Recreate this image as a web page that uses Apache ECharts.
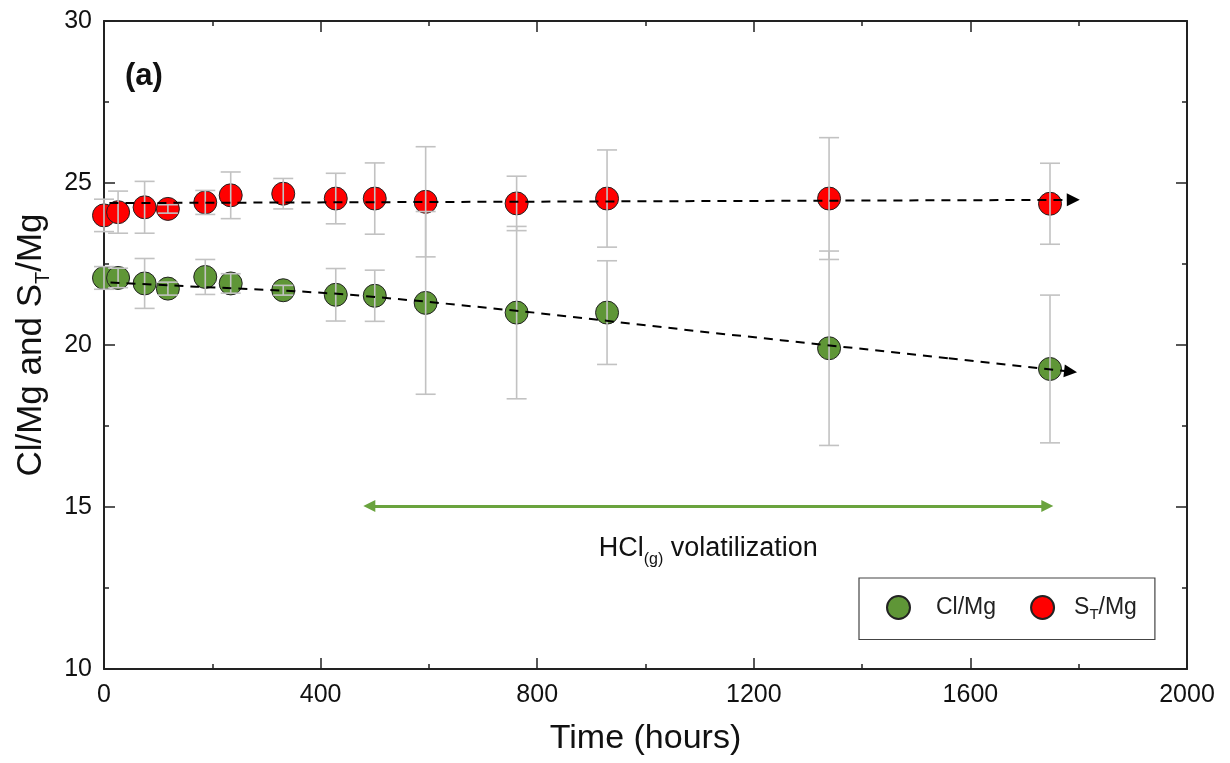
<!DOCTYPE html>
<html>
<head>
<meta charset="utf-8">
<script src="https://cdn.jsdelivr.net/npm/echarts@6/dist/echarts.min.js"></script>
<style>
html,body{margin:0;padding:0;background:#fff;}
#chart{width:1230px;height:763px;}
</style>
</head>
<body>
<div id="chart"></div>
<script>
// ---- data ----
const timeHours = [0, 26, 75, 118, 187, 234, 331, 428, 500, 594, 762, 929, 1339, 1747];
const stMg  = [24.0, 24.1, 24.25, 24.2, 24.4, 24.62, 24.67, 24.52, 24.52, 24.42, 24.37, 24.52, 24.52, 24.36];
const stErr = [0.5, 0.65, 0.8, 0.13, 0.37, 0.72, 0.47, 0.78, 1.1, 1.7, 0.84, 1.5, 1.88, 1.25];
const clMg  = [22.07, 22.07, 21.9, 21.74, 22.1, 21.9, 21.69, 21.55, 21.52, 21.3, 21.0, 21.0, 19.9, 19.26];
const clErr = [0.35, 0.3, 0.77, 0.2, 0.54, 0.3, 0.15, 0.81, 0.79, 2.82, 2.66, 1.6, 3.0, 2.28];
const stTrend = [[10, 24.38], [1790, 24.48]];
const clTrend = [[12, 21.93], [170, 21.8], [345, 21.67], [450, 21.56], [600, 21.33], [800, 20.99], [1100, 20.42], [1250, 20.15], [1560, 19.59], [1785, 19.18]];
const hclArrow = [[490, 15.03], [1742, 15.03]];
const hclLabelPos = [1116, 13.73];
const xTickLabels = ['0', '400', '800', '1200', '1600', '2000'];
const yTickLabels = ['10', '15', '20', '25', '30'];

const GREEN = '#5f9637';
const RED = '#ff0000';
const FONT = 'Liberation Sans, Arial, sans-serif';

const stErrData = timeHours.map((t, i) => [t, stMg[i] - stErr[i], stMg[i] + stErr[i]]);
const clErrData = timeHours.map((t, i) => [t, clMg[i] - clErr[i], clMg[i] + clErr[i]]);

function errRender(params, api) {
  const lo = api.coord([api.value(0), api.value(1)]);
  const hi = api.coord([api.value(0), api.value(2)]);
  const hw = 10;
  const st = { stroke: '#c2c2c2', lineWidth: 1.6 };
  return {
    type: 'group',
    children: [
      { type: 'line', shape: { x1: lo[0], y1: lo[1], x2: hi[0], y2: hi[1] }, style: st },
      { type: 'line', shape: { x1: lo[0] - hw, y1: lo[1], x2: lo[0] + hw, y2: lo[1] }, style: st },
      { type: 'line', shape: { x1: hi[0] - hw, y1: hi[1], x2: hi[0] + hw, y2: hi[1] }, style: st }
    ]
  };
}

const axisLineStyle = { color: '#222', width: 2 };
const commonX = {
  type: 'value', min: 0, max: 2000, interval: 400,
  axisLine: { show: true, onZero: false, lineStyle: axisLineStyle },
  axisTick: { show: true, inside: true, length: 11, lineStyle: { color: '#222', width: 1.5 } },
  minorTick: { show: true, splitNumber: 2, length: 5, lineStyle: { color: '#222', width: 1.5 } },
  splitLine: { show: false }, minorSplitLine: { show: false }
};
const commonY = {
  type: 'value', min: 10, max: 30, interval: 5,
  axisLine: { show: true, onZero: false, lineStyle: axisLineStyle },
  axisTick: { show: true, inside: true, length: 11, lineStyle: { color: '#222', width: 1.5 } },
  minorTick: { show: true, splitNumber: 2, length: 5, lineStyle: { color: '#222', width: 1.5 } },
  splitLine: { show: false }, minorSplitLine: { show: false }
};

const chart = echarts.init(document.getElementById('chart'), null, { renderer: 'canvas' });
chart.setOption({
  animation: false,
  backgroundColor: '#fff',
  textStyle: { fontFamily: FONT },
  title: {
    text: '(a)', left: 120, top: 56,
    textStyle: { fontFamily: FONT, fontWeight: 'bold', fontSize: 31, color: '#111' }
  },
  grid: { left: 104, top: 21, width: 1083, height: 648, containLabel: false },
  xAxis: [
    Object.assign({}, commonX, {
      position: 'bottom',
      name: 'Time (hours)', nameLocation: 'middle', nameGap: 53,
      nameTextStyle: { fontFamily: FONT, fontSize: 34, color: '#111' },
      axisLabel: { show: true, fontSize: 25, color: '#111', margin: 14, fontFamily: FONT,
        formatter: v => xTickLabels[xTickLabels.indexOf(String(v))] || String(v) }
    }),
    Object.assign({}, commonX, { position: 'top', axisLabel: { show: false } })
  ],
  yAxis: [
    Object.assign({}, commonY, {
      position: 'left',
      name: '{n|Cl/Mg and S}{s|T}{n|/Mg}', nameLocation: 'middle', nameGap: 49, nameRotate: 90,
      nameTextStyle: {
        fontFamily: FONT, color: '#111',
        rich: {
          n: { fontSize: 35, fontFamily: FONT, color: '#111', lineHeight: 44, verticalAlign: 'middle' },
          s: { fontSize: 20, fontFamily: FONT, color: '#111', lineHeight: 44, verticalAlign: 'bottom' }
        }
      },
      axisLabel: { show: true, fontSize: 25, color: '#111', margin: 12, fontFamily: FONT,
        formatter: v => yTickLabels[yTickLabels.indexOf(String(v))] || String(v) }
    }),
    Object.assign({}, commonY, { position: 'right', axisLabel: { show: false } })
  ],
  legend: {
    data: [
      { name: 'Cl/Mg', textStyle: { padding: [0, 0, 0, 21] } },
      { name: 'ST/Mg', textStyle: { padding: [0, 0, 0, 15] } }
    ],
    left: 859, top: 578,
    orient: 'horizontal',
    padding: [17, 18, 17, 27],
    itemWidth: 23, itemHeight: 23, itemGap: 34,
    borderColor: '#444', borderWidth: 1.2, backgroundColor: '#fff',
    icon: 'circle',
    formatter: name => name === 'ST/Mg' ? '{n|S}{s|T}{n|/Mg}' : '{n|Cl/Mg}',
    textStyle: {
      fontFamily: FONT, fontSize: 23, color: '#222',
      rich: {
        n: { fontSize: 23, fontFamily: FONT, color: '#222', lineHeight: 30, verticalAlign: 'middle' },
        s: { fontSize: 15, fontFamily: FONT, color: '#222', lineHeight: 30, verticalAlign: 'bottom' }
      }
    }
  },
  series: [
    {
      name: 'Cl/Mg', type: 'scatter', xAxisIndex: 0, yAxisIndex: 0, z: 2,
      symbol: 'circle', symbolSize: 23,
      itemStyle: { color: GREEN, borderColor: '#222', borderWidth: 1, opacity: 1 },
      data: timeHours.map((t, i) => [t, clMg[i]])
    },
    {
      name: 'ST/Mg', type: 'scatter', xAxisIndex: 0, yAxisIndex: 0, z: 2,
      symbol: 'circle', symbolSize: 23,
      itemStyle: { color: RED, borderColor: '#222', borderWidth: 1, opacity: 1 },
      data: timeHours.map((t, i) => [t, stMg[i]])
    },
    {
      name: 'clErr', type: 'custom', xAxisIndex: 0, yAxisIndex: 0, z: 3,
      renderItem: errRender, encode: { x: 0, y: [1, 2] }, data: clErrData, silent: true
    },
    {
      name: 'stErr', type: 'custom', xAxisIndex: 0, yAxisIndex: 0, z: 3,
      renderItem: errRender, encode: { x: 0, y: [1, 2] }, data: stErrData, silent: true
    },
    {
      name: 'clTrend', type: 'line', xAxisIndex: 0, yAxisIndex: 0, z: 4,
      showSymbol: false, symbol: 'none', smooth: false,
      lineStyle: { color: '#000', width: 2, type: [9, 7] },
      data: clTrend.slice(0, -1), silent: true
    },
    {
      name: 'trendArrows', type: 'lines', coordinateSystem: 'cartesian2d', xAxisIndex: 0, yAxisIndex: 0, z: 5,
      polyline: false,
      symbol: ['none', 'triangle'], symbolSize: 13,
      lineStyle: { color: '#000', width: 2, type: [9, 7], opacity: 1 },
      data: [
        { coords: stTrend },
        { coords: clTrend.slice(-2) }
      ],
      silent: true
    },
    {
      name: 'hclArrow', type: 'lines', coordinateSystem: 'cartesian2d', xAxisIndex: 0, yAxisIndex: 0, z: 5,
      symbol: ['triangle', 'triangle'], symbolSize: 12,
      lineStyle: { color: '#6aa33e', width: 3, type: 'solid', opacity: 1 },
      data: [{ coords: hclArrow }],
      silent: true
    },
    {
      name: 'hclLabel', type: 'scatter', xAxisIndex: 0, yAxisIndex: 0, z: 6,
      symbolSize: 0, silent: true,
      itemStyle: { opacity: 1 },
      data: [hclLabelPos],
      label: {
        show: true, position: 'inside', opacity: 1,
        formatter: '{n|HCl}{s|(g)}{n| volatilization}',
        rich: {
          n: { fontSize: 27, fontFamily: FONT, color: '#111', lineHeight: 38, verticalAlign: 'middle' },
          s: { fontSize: 16, fontFamily: FONT, color: '#111', lineHeight: 38, verticalAlign: 'bottom' }
        }
      }
    }
  ]
});
</script>
</body>
</html>
